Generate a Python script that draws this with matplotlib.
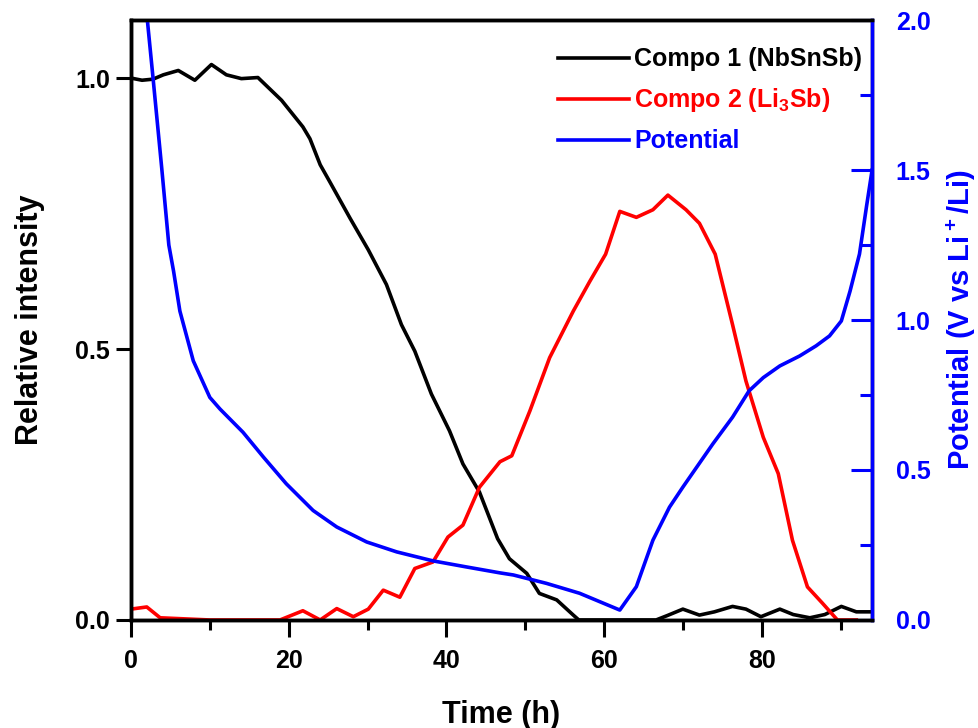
"""Relative intensity of the two components and cell potential vs time."""

import matplotlib
matplotlib.use("Agg")
import matplotlib.pyplot as plt
from matplotlib.ticker import MultipleLocator

plt.rcParams["font.family"] = ["Liberation Sans", "DejaVu Sans"]
plt.rcParams["font.weight"] = "bold"
plt.rcParams["mathtext.fontset"] = "custom"
plt.rcParams["mathtext.rm"] = "Liberation Sans:bold"
plt.rcParams["mathtext.bf"] = "Liberation Sans:bold"
plt.rcParams["mathtext.default"] = "bf"

# Compo 1 (NbSnSb)
time_c1 = [0, 1.4, 2.8, 4.1, 6.0, 8.1, 10.2, 12.1, 14.0, 16.1, 19.1, 21.8,
           22.7, 24.0, 25.2, 27.8, 30.1, 32.4, 34.3, 36.0, 38.1, 40.4, 42.1,
           44.2, 46.5, 48.0, 50.2, 51.8, 54.0, 56.1, 56.8, 60.0, 66.6, 68.0,
           70.0, 72.1, 74.0, 76.3, 78.0, 79.9, 82.3, 84.0, 86.1, 88.0, 90.1,
           92.0, 94.0]
compo1 = [1.0, 0.996, 0.998, 1.006, 1.014, 0.996, 1.025, 1.006, 0.999, 1.001,
          0.959, 0.91, 0.888, 0.84, 0.809, 0.741, 0.683, 0.619, 0.545, 0.496,
          0.417, 0.349, 0.288, 0.236, 0.15, 0.113, 0.086, 0.049, 0.037, 0.009,
          0.0, 0.0, 0.0, 0.008, 0.02, 0.009, 0.015, 0.025, 0.02, 0.006, 0.02,
          0.01, 0.004, 0.01, 0.025, 0.015, 0.015]

# Compo 2 (Li3Sb)
time_c2 = [0, 2.0, 3.7, 10.0, 18.9, 21.8, 24.0, 26.1, 28.2, 30.1, 32.0, 34.1,
           36.0, 38.3, 40.2, 42.1, 44.2, 46.8, 48.3, 50.6, 53.1, 56.1, 58.2,
           60.2, 62.0, 64.1, 66.2, 68.1, 70.4, 72.1, 74.1, 76.3, 78.0, 80.2,
           82.1, 83.9, 85.8, 87.7, 89.6, 92.0]
compo2 = [0.02, 0.024, 0.004, 0.0, 0.0, 0.017, 0.0, 0.021, 0.006, 0.02, 0.055,
          0.042, 0.095, 0.107, 0.153, 0.175, 0.245, 0.292, 0.303, 0.386, 0.484,
          0.57, 0.625, 0.675, 0.754, 0.743, 0.757, 0.784, 0.757, 0.732, 0.675,
          0.545, 0.441, 0.337, 0.27, 0.147, 0.061, 0.031, 0.0, 0.0]

# Potential (V vs Li+/Li)
time_pot = [2.0, 2.8, 3.9, 4.8, 5.4, 6.2, 7.9, 10.0, 11.3, 14.2, 16.8, 19.7,
            23.1, 26.1, 29.9, 33.7, 38.3, 42.5, 46.8, 48.5, 52.7, 56.9, 62.0,
            64.1, 66.2, 68.3, 70.0, 73.8, 76.3, 78.4, 80.2, 82.3, 84.8, 86.9,
            88.6, 90.1, 91.2, 92.4, 93.3, 94.0]
potential = [2.02, 1.806, 1.506, 1.25, 1.163, 1.03, 0.864, 0.742, 0.703, 0.626,
             0.543, 0.454, 0.365, 0.31, 0.26, 0.227, 0.197, 0.177, 0.157, 0.15,
             0.122, 0.089, 0.033, 0.111, 0.266, 0.376, 0.443, 0.587, 0.676,
             0.764, 0.808, 0.847, 0.88, 0.914, 0.947, 0.997, 1.096, 1.22,
             1.38, 1.5]

LW = 2.6

fig = plt.figure(figsize=(9.79, 7.28), dpi=100)
ax = fig.add_axes([0.1338, 0.1484, 0.757, 0.824])

ax.plot(time_c1, compo1, color="black", linewidth=LW,
        label="Compo 1 (NbSnSb)")
ax.plot(time_c2, compo2, color="#ff0000", linewidth=LW,
        label="Compo 2 (Li$_3$Sb)")

ax.set_xlim(0, 94)
ax.set_ylim(0, 1.107)
ax.xaxis.set_major_locator(MultipleLocator(20))
ax.xaxis.set_minor_locator(MultipleLocator(10))
ax.set_yticks([0.0, 0.5, 1.0])
ax.tick_params(axis="x", which="major", direction="out", length=12,
               width=2.2, labelsize=18, pad=9)
ax.tick_params(axis="x", which="minor", direction="out", length=7,
               width=2.2)
ax.tick_params(axis="y", which="major", direction="out", length=11,
               width=2.2, labelsize=18, pad=4)
for side in ["left", "bottom", "top", "right"]:
    ax.spines[side].set_linewidth(2.5)
ax.set_xlabel("Time (h)", fontsize=22, fontweight="bold", labelpad=19)
ax.set_ylabel("Relative intensity", fontsize=22, fontweight="bold",
              labelpad=22)

ax2 = ax.twinx()
ax2.plot(time_pot, potential, color="#0000ff", linewidth=LW,
         label="Potential")
ax2.set_ylim(0, 2.0)
ax2.yaxis.set_major_locator(MultipleLocator(0.5))
ax2.yaxis.set_minor_locator(MultipleLocator(0.25))
ax2.tick_params(axis="y", which="major", direction="in", length=15,
                width=2.2, labelsize=18, colors="#0000ff", pad=17)
ax2.tick_params(axis="y", which="minor", direction="in", length=9,
                width=2.2, colors="#0000ff")
ax2.spines["right"].set_color("#0000ff")
ax2.spines["right"].set_linewidth(2.5)
for side in ["left", "bottom", "top"]:
    ax2.spines[side].set_linewidth(2.5)
ax2.set_ylabel("Potential (V vs Li$^+$/Li)", fontsize=21, fontweight="bold",
               color="#0000ff", labelpad=10)

handles = ax.get_lines() + ax2.get_lines()
legend = ax2.legend(handles, [h.get_label() for h in handles],
                    loc="upper right", bbox_to_anchor=(0.881, 0.935),
                    bbox_transform=fig.transFigure, frameon=False,
                    fontsize=18, handlelength=2.85, handletextpad=0.2,
                    labelspacing=0.6, borderpad=0, borderaxespad=0)
for text, line in zip(legend.get_texts(), legend.get_lines()):
    text.set_color(line.get_color())
    text.set_fontweight("bold")

fig.savefig("out.png", dpi=100)
plt.close(fig)
